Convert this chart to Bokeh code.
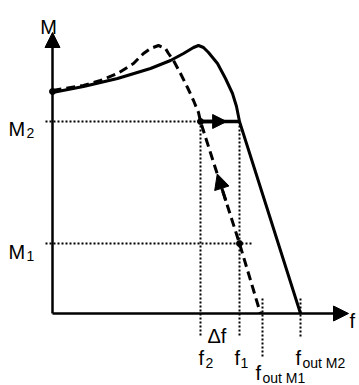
from bokeh.plotting import figure
from bokeh.models import Arrow, NormalHead
from bokeh.core.properties import value
from bokeh.embed import file_html
from bokeh.resources import INLINE

# ---- data (diagram units: frequency on x, magnitude on y) ----
f2 = 148
f1 = 187
f_out_M1 = 209
f_out_M2 = 248
M2 = 192
M1 = 70
f_axis_end = 296
M_axis_end = 281

solid_x = [0, 31, 65, 98, 118, 131, 141, 146, 151, 156, 165, 173, 180, 184, 187, 248]
solid_y = [221, 227, 235, 245, 253, 260, 266, 268, 266, 261, 250, 235, 220, 207, 192, 0]

dashed_x = [0, 31, 48, 65, 81, 91, 98, 106, 113, 116, 121, 128, 135, 141, 146, 148, 187, 208]
dashed_y = [223, 228, 233, 240, 250, 260, 265, 268, 265, 260, 253, 240, 226, 213, 201, 192, 70, 0]

FONT = "Liberation Sans"
MAIN = "20px"
SUB = "14px"

p = figure(width=359, height=385, x_range=(-52, 307), y_range=(-72, 313),
           min_border=0, toolbar_location=None, output_backend="svg",
           outline_line_color=None)
p.axis.visible = False
p.grid.visible = False
p.background_fill_color = "white"
p.border_fill_color = "white"

# dotted guide lines
dot = dict(line_color="black", line_width=2, line_dash="2 2")
p.line([-7, f1], [M2, M2], **dot)
p.line([-7, f1 + 12], [M1, M1], **dot)
p.line([f2, f2], [M2, -24], **dot)
p.line([f1, f1], [M2, -24], **dot)
p.line([f_out_M1 + 1, f_out_M1 + 1], [15, -44], **dot)
p.line([f_out_M2, f_out_M2], [15, -24], **dot)

# axes with arrow heads
head = dict(fill_color="black", line_color="black", line_width=1)
p.add_layout(Arrow(end=NormalHead(size=15, **head),
                   x_start=0, y_start=0, x_end=f_axis_end, y_end=0, line_width=2.5))
p.add_layout(Arrow(end=NormalHead(size=15, **head),
                   x_start=0, y_start=0, x_end=0, y_end=M_axis_end, line_width=2.5))

# curves
p.line(solid_x, solid_y, line_color="black", line_width=3, line_join="round")
p.line(dashed_x, dashed_y, line_color="black", line_width=3, line_dash="9 5", line_join="round")

# horizontal transition arrow at M2 from f2 to f1
p.line([f2, f1], [M2, M2], line_color="black", line_width=3.5)
tip_frac = 0.67
p.add_layout(Arrow(end=NormalHead(size=14, **head),
                   x_start=f2, y_start=M2, x_end=f2 + tip_frac * (f1 - f2), y_end=M2,
                   line_width=3.5))

# arrow on the dashed line from (f1, M1) towards (f2, M2)
a0, a1 = 0.35, 0.57
xs = f1 + a0 * (f2 - f1); ys = M1 + a0 * (M2 - M1)
xe = f1 + a1 * (f2 - f1); ye = M1 + a1 * (M2 - M1)
p.add_layout(Arrow(end=NormalHead(size=15, **head),
                   x_start=xs, y_start=ys, x_end=xe, y_end=ye, line_width=3))

# dots
p.scatter([0, f2, f1], [222, M2, M1], size=6, color="black")

# labels
def txt(x, y, s, size, align="left"):
    p.text([x], [y], text=[s], text_font=value(FONT), text_font_size=size,
           text_align=align, text_baseline="alphabetic", text_color="black")

txt(-4, 287, "M", MAIN, "center")
txt(f_axis_end + 1, -7, "f", MAIN)
txt(-44, M2 - 7, "M", MAIN)
txt(-26, M2 - 11, "2", SUB)
txt(-44, M1 - 8, "M", MAIN)
txt(-26, M1 - 12, "1", SUB)
txt(f2 + 7, -22, "\u0394f", MAIN)
txt(f2 - 2, -44, "f", MAIN)
txt(f2 + 5, -49, "2", SUB)
txt(f1 - 5, -44, "f", MAIN)
txt(f1 + 1, -49, "1", SUB)
txt(f_out_M2 - 5, -44, "f", MAIN)
txt(f_out_M2 + 2, -49, "out M2", SUB)
txt(f_out_M1 - 6, -59, "f", MAIN)
txt(f_out_M1 + 1, -64, "out M1", SUB)

open("out.html", "w").write(file_html(p, INLINE))
